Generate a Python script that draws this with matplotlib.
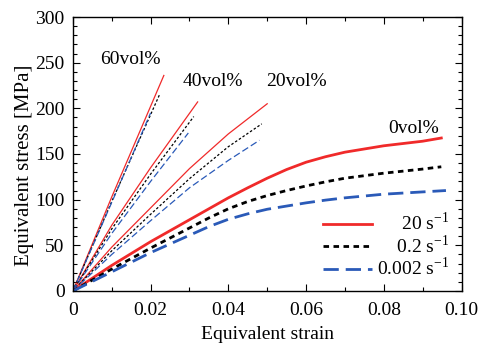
import matplotlib
matplotlib.use('Agg')
import matplotlib.pyplot as plt
from matplotlib.ticker import MultipleLocator, FuncFormatter

plt.rcParams['font.family'] = ['Liberation Serif', 'DejaVu Serif']
plt.rcParams['mathtext.fontset'] = 'custom'
plt.rcParams['mathtext.rm'] = 'Liberation Serif'
plt.rcParams['font.size'] = 14

# 0 vol%
x0_red = [0, 0.01, 0.02, 0.03, 0.035, 0.04, 0.045, 0.05, 0.055, 0.06, 0.065, 0.07, 0.08, 0.09, 0.0948]
y0_red = [0, 28, 54, 78, 90, 102, 113, 123.5, 133, 141, 147, 152, 159, 164, 167.5]
x0_blk = [0, 0.01, 0.02, 0.03, 0.035, 0.04, 0.045, 0.05, 0.055, 0.06, 0.065, 0.07, 0.08, 0.09, 0.0948]
y0_blk = [0, 24, 47, 69, 80, 90, 98, 104.5, 110, 115, 119.5, 123.5, 129, 133.5, 136]
x0_blu = [0, 0.01, 0.02, 0.03, 0.035, 0.04, 0.045, 0.05, 0.055, 0.06, 0.065, 0.07, 0.08, 0.09, 0.096]
y0_blu = [0, 21, 42, 61, 70.5, 78.5, 84.5, 89.5, 93, 96.5, 99.5, 102, 106, 108.5, 110]

# 20 vol%
x20_red = [0, 0.01, 0.02, 0.03, 0.04, 0.05]
y20_red = [0, 48, 91, 134, 172, 205]
x20_blk = [0, 0.01, 0.02, 0.03, 0.04, 0.0486]
y20_blk = [0, 44, 84, 123, 158, 183]
x20_blu = [0, 0.01, 0.02, 0.03, 0.04, 0.048]
y20_blu = [0, 40, 77, 113, 143, 165]

# 40 vol%
x40_red = [0, 0.01, 0.02, 0.0321]
y40_red = [0, 72, 135, 207]
x40_blk = [0, 0.01, 0.02, 0.0311]
y40_blk = [0, 68, 128, 191]
x40_blu = [0, 0.01, 0.02, 0.0297]
y40_blu = [0, 63, 120, 173]

# 60 vol%
x60_red = [0, 0.01, 0.0234]
y60_red = [0, 103, 236]
x60_blk = [0, 0.01, 0.0224]
y60_blk = [0, 98, 216]
x60_blu = [0, 0.01, 0.020]
y60_blu = [0, 97, 195]

labels = ['60vol%', '40vol%', '20vol%', '0vol%']
label_x = [0.0149, 0.0359, 0.0574, 0.0877]
label_y = [253, 229, 229, 178]

RED = '#f02a2a'
BLK = 'black'
BLU = '#2a5ab8'
dot = (0, (2.0, 1.6))
dash = (0, (5.5, 2.5))

fig = plt.figure(figsize=(4.86, 3.47), dpi=100)
ax = fig.add_axes([0.150, 0.1614, 0.7996, 0.7896])

# thin lines (composite)
for xs, ys in [(x60_red, y60_red), (x40_red, y40_red), (x20_red, y20_red)]:
    ax.plot(xs, ys, color=RED, lw=0.9)
for xs, ys in [(x60_blk, y60_blk), (x40_blk, y40_blk), (x20_blk, y20_blk)]:
    ax.plot(xs, ys, color=BLK, lw=0.9, linestyle=dot)
for xs, ys in [(x60_blu, y60_blu), (x40_blu, y40_blu), (x20_blu, y20_blu)]:
    ax.plot(xs, ys, color=BLU, lw=0.9, linestyle=dash)

# 0 vol% thick lines
ax.plot(x0_red, y0_red, color=RED, lw=2.0, label='\u2007\u2007\u200820 s$^{-1}$')
ax.plot(x0_blk, y0_blk, color=BLK, lw=2.0, linestyle=dot, label='\u2007\u20070.2 s$^{-1}$')
ax.plot(x0_blu, y0_blu, color=BLU, lw=2.0, linestyle=dash, label='0.002 s$^{-1}$')

for t, lx, ly in zip(labels, label_x, label_y):
    ax.text(lx, ly, t, ha='center', va='center', fontsize=14)

ax.set_xlim(0, 0.10)
ax.set_ylim(0, 300)
ax.xaxis.set_major_locator(MultipleLocator(0.02))
ax.xaxis.set_minor_locator(MultipleLocator(0.01))
ax.yaxis.set_major_locator(MultipleLocator(50))
ax.yaxis.set_minor_locator(MultipleLocator(10))
ax.xaxis.set_major_formatter(FuncFormatter(lambda v, p: '0' if v == 0 else '%.2f' % v))
ax.tick_params(which='both', direction='in', top=True, right=True, labelsize=14)
ax.tick_params(axis='x', pad=8)
ax.tick_params(axis='y', pad=6)
ax.tick_params(which='major', length=5, width=0.8)
ax.tick_params(which='minor', length=3, width=0.8)
for s in ax.spines.values():
    s.set_linewidth(1.0)

ax.set_xlabel('Equivalent strain', fontsize=14, labelpad=5)
ax.set_ylabel('Equivalent stress [MPa]', fontsize=15)
ax.yaxis.set_label_coords(-0.10, 0.46)

ax.legend(loc='lower right', frameon=False, fontsize=14, handlelength=2.5,
          handletextpad=0.25, labelspacing=0.0, borderaxespad=0.3,
          bbox_to_anchor=(1.003, -0.008))

fig.savefig('out.png', dpi=100)
